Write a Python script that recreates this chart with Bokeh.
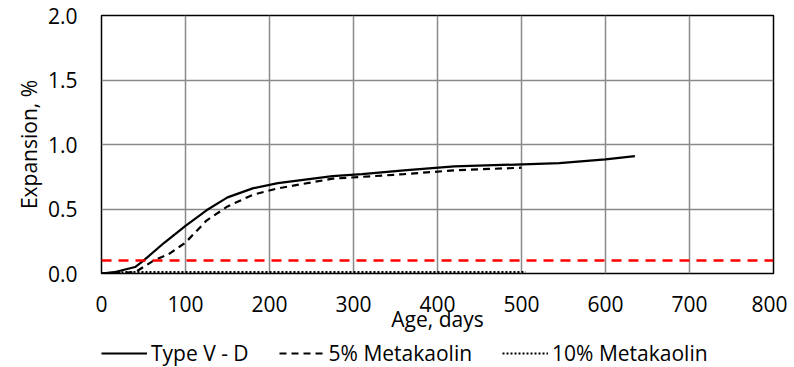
from bokeh.plotting import figure
from bokeh.layouts import column
from bokeh.models import Legend, LegendItem, FixedTicker, Span, Range1d, NumeralTickFormatter
from bokeh.embed import file_html
from bokeh.resources import INLINE

# Data
type_v_days = [0, 15, 40, 50, 75, 100, 125, 150, 180, 210, 275, 310, 360, 420, 545, 600, 635]
type_v_exp = [0, 0.01, 0.05, 0.10, 0.24, 0.37, 0.49, 0.59, 0.66, 0.70, 0.755, 0.77, 0.80, 0.83, 0.855, 0.885, 0.91]
mk5_days = [0, 40, 62, 80, 100, 125, 150, 180, 210, 275, 360, 420, 500]
mk5_exp = [0, 0.01, 0.10, 0.15, 0.24, 0.41, 0.52, 0.61, 0.66, 0.735, 0.77, 0.80, 0.82]
mk10_days = [0, 28, 56, 100, 200, 300, 400, 505]
mk10_exp = [0, 0.01, 0.01, 0.01, 0.01, 0.01, 0.01, 0.01]
threshold = 0.1
x_ticks = [0, 100, 200, 300, 400, 500, 600, 700, 800]
y_ticks = [0.0, 0.5, 1.0, 1.5, 2.0]
series_names = ["Type V - D", "5% Metakaolin", "10% Metakaolin"]

FONT = "Open Sans"
FS = "21px"

styles = [dict(line_color="black", line_width=2.2),
          dict(line_color="black", line_width=2.2, line_dash="7 5"),
          dict(line_color="black", line_width=2.2, line_dash="2 2")]
series = [(type_v_days, type_v_exp), (mk5_days, mk5_exp), (mk10_days, mk10_exp)]

p = figure(width=787, height=339, output_backend="svg", toolbar_location=None,
           x_range=Range1d(0, 800), y_range=Range1d(0, 2.0),
           min_border_left=101, min_border_top=15, min_border_right=14, min_border_bottom=66)

for (xs, ys), s in zip(series, styles):
    p.line(xs, ys, **s)

p.add_layout(Span(location=threshold, dimension="width", line_color="#ff0000",
                  line_width=2.5, line_dash="10 7"))

p.xaxis.ticker = FixedTicker(ticks=x_ticks)
p.yaxis.ticker = FixedTicker(ticks=y_ticks)
p.yaxis.formatter = NumeralTickFormatter(format="0.0")
p.xaxis.axis_label = "Age, days"
p.yaxis.axis_label = "Expansion, %"

for ax in (p.xaxis, p.yaxis):
    ax.major_tick_line_color = None
    ax.minor_tick_line_color = None
    ax.axis_line_color = None
    ax.major_label_text_font = FONT
    ax.major_label_text_font_size = FS
    ax.major_label_text_color = "black"
    ax.axis_label_text_font = FONT
    ax.axis_label_text_font_size = FS
    ax.axis_label_text_font_style = "normal"
    ax.axis_label_text_color = "black"

p.xaxis.major_label_standoff = 16
p.xaxis.axis_label_standoff = -10
p.yaxis.major_label_standoff = 18
p.yaxis.axis_label_standoff = 2

p.grid.grid_line_color = "#898989"
p.grid.grid_line_width = 1.5
p.outline_line_color = "black"
p.outline_line_width = 1.5

# Legend strip below the chart (series drawn out of its view; only the legend shows)
lg = figure(width=787, height=28, output_backend="svg", toolbar_location=None,
            x_axis_type=None, y_axis_type=None,
            x_range=Range1d(0, 800), y_range=Range1d(5, 6),
            min_border_left=0, min_border_right=0, min_border_top=0, min_border_bottom=0)
lg.outline_line_color = None
lg_renderers = [lg.line(xs, ys, **s) for (xs, ys), s in zip(series, styles)]
legend = Legend(items=[LegendItem(label=n, renderers=[r]) for n, r in zip(series_names, lg_renderers)],
                orientation="horizontal", location=(0, 0),
                label_text_font=FONT, label_text_font_size="21px", label_text_color="black",
                glyph_width=46, glyph_height=20, label_standoff=4, spacing=30,
                padding=0, margin=0, border_line_color=None, background_fill_alpha=0)
lg.add_layout(legend, "center")

open("out.html", "w").write(file_html(column(p, lg, spacing=0), INLINE))
